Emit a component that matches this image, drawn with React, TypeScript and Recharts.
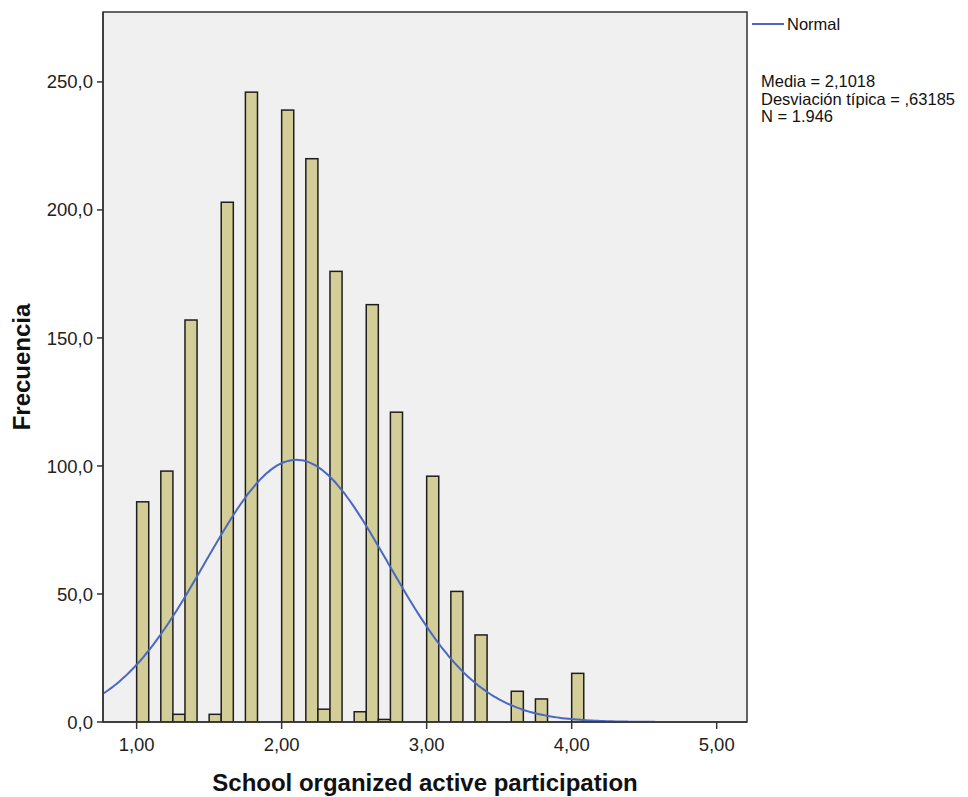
import React from 'react';
import {
  ComposedChart,
  Bar,
  Line,
  XAxis,
  YAxis,
  CartesianGrid,
  ReferenceArea,
} from 'recharts';

// histogram bins (width 1/12, left edges) and their counts
const binStarts = [
  1.0, 1.1667, 1.25, 1.3333, 1.5, 1.5833, 1.75, 2.0, 2.1667, 2.25, 2.3333,
  2.5, 2.5833, 2.6667, 2.75, 3.0, 3.1667, 3.3333, 3.5833, 3.75, 4.0,
];
const counts = [
  86, 98, 3, 157, 3, 203, 246, 239, 220, 5, 176,
  4, 163, 1, 121, 96, 51, 34, 12, 9, 19,
];
const BIN_WIDTH = 1 / 12;

// fitted normal (from the summary statistics)
const MEAN = 2.1018;
const SD = 0.63185;
const N = 1946;

const xTicks = [1, 2, 3, 4, 5];
const yTicks = [0, 50, 100, 150, 200, 250];

const X_MIN = 0.768;
const X_MAX = 5.209;
const Y_MAX = 277.3;

const W = 968;
const H = 797;
const PLOT_LEFT = 103;
const PLOT_RIGHT = 747;
const PLOT_TOP = 12;
const PLOT_BOTTOM = 722;

const FONT = '"Liberation Sans", Arial, sans-serif';
const BAR_FILL = '#D3CE97';
const CURVE = '#4A68C2';
const AXIS = '#333333';

const barData = binStarts.map((s, i) => ({ x: s + BIN_WIDTH / 2, count: counts[i] }));

const normalAt = (x: number) =>
  (N * BIN_WIDTH) / (SD * Math.sqrt(2 * Math.PI)) *
  Math.exp(-0.5 * ((x - MEAN) / SD) ** 2);

const CURVE_STEPS = 220;
const curveData = Array.from({ length: CURVE_STEPS + 1 }, (_, i) => {
  const x = X_MIN + ((X_MAX - X_MIN) * i) / CURVE_STEPS;
  return { x, normal: normalAt(x) };
});

// pixel width of one bin on the x scale
const binPx = ((PLOT_RIGHT - PLOT_LEFT) / (X_MAX - X_MIN)) * BIN_WIDTH;

const fmtX = (v: number) => v.toFixed(2).replace('.', ',');
const fmtY = (v: number) => v.toFixed(1).replace('.', ',');

// bar centred where recharts put it, but stretched to the full bin width
const BinBar = (props: any) => {
  const { x, y, width, height } = props;
  if (!height || height <= 0) return null;
  const cx = x + width / 2;
  return (
    <rect
      x={cx - binPx / 2}
      y={y}
      width={binPx}
      height={height}
      fill={BAR_FILL}
      stroke="#1e1e1e"
      strokeWidth={1.5}
    />
  );
};

export default function App() {
  return (
    <div style={{ position: 'absolute', left: 0, top: 0, width: W, height: H, background: '#fff' }}>
      <ComposedChart
        width={W}
        height={H}
        data={barData}
        margin={{ top: PLOT_TOP, right: W - PLOT_RIGHT, bottom: 0, left: 0 }}
        style={{ fontFamily: FONT }}
      >
        <CartesianGrid fill="#F0F0F0" horizontal={false} vertical={false} />
        <XAxis
          dataKey="x"
          type="number"
          domain={[X_MIN, X_MAX]}
          allowDataOverflow
          ticks={xTicks}
          tickFormatter={fmtX}
          height={H - PLOT_BOTTOM}
          tickSize={7}
          tickMargin={9}
          stroke={AXIS}
          strokeWidth={1.5}
          tick={{ fill: '#222', fontSize: 18.5, fontFamily: FONT }}
          label={{
            value: 'School organized active participation',
            position: 'insideBottom',
            offset: 6,
            style: { fill: '#111', fontSize: 24, fontWeight: 'bold', fontFamily: FONT },
          }}
        />
        <YAxis
          type="number"
          domain={[0, Y_MAX]}
          allowDataOverflow
          ticks={yTicks}
          tickFormatter={fmtY}
          width={PLOT_LEFT}
          tickSize={6}
          tickMargin={4}
          stroke={AXIS}
          strokeWidth={1.5}
          tick={{ fill: '#222', fontSize: 18.5, fontFamily: FONT }}
          label={{
            value: 'Frecuencia',
            angle: -90,
            position: 'insideLeft',
            offset: 21,
            style: { textAnchor: 'middle', fill: '#111', fontSize: 24, fontWeight: 'bold', fontFamily: FONT },
          }}
        />
        <Bar
          dataKey="count"
          barSize={binPx}
          fill={BAR_FILL}
          shape={BinBar}
          isAnimationActive={false}
        />
        <Line
          data={curveData}
          dataKey="normal"
          type="monotone"
          stroke={CURVE}
          strokeWidth={2}
          dot={false}
          activeDot={false}
          isAnimationActive={false}
        />
        <ReferenceArea
          x1={X_MIN}
          x2={X_MAX}
          y1={0}
          y2={Y_MAX}
          fill="none"
          fillOpacity={0}
          stroke={AXIS}
          strokeWidth={1.5}
          ifOverflow="visible"
        />
      </ComposedChart>

      {/* legend and summary statistics */}
      <div style={{ position: 'absolute', left: 752, top: 15, fontFamily: FONT, fontSize: 16.5, lineHeight: '18px', color: '#111', display: 'flex', alignItems: 'center' }}>
        <span style={{ display: 'inline-block', width: 32, height: 2, background: CURVE, marginRight: 3 }} />
        <span>Normal</span>
      </div>
      <div style={{ position: 'absolute', left: 761, top: 73, fontFamily: FONT, fontSize: 16.5, lineHeight: '17.5px', color: '#111', whiteSpace: 'nowrap' }}>
        <div>Media = 2,1018</div>
        <div>Desviación típica = ,63185</div>
        <div>N = 1.946</div>
      </div>
    </div>
  );
}
